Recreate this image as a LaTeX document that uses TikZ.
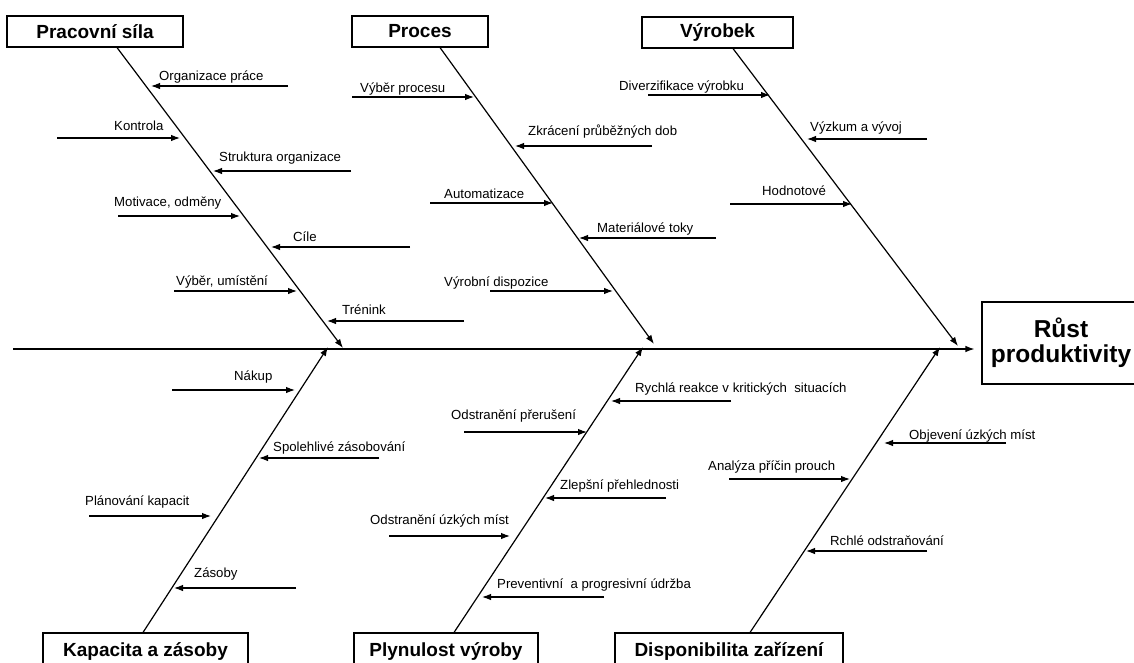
\documentclass[tikz,border=0pt]{standalone}
\usepackage{fontspec}
\setmainfont{Liberation Sans}
\usetikzlibrary{arrows.meta}

\tikzset{
  tip/.style={-{Latex[length=9pt,width=6.5pt]}},
  spine/.style={line width=1.2pt, tip},
  bone/.style={line width=1.2pt, tip},
  causearrow/.style={line width=1.1pt, tip},
  lbl/.style={anchor=base west, inner sep=0pt, font=\fontsize{13.2}{15}\selectfont},
  titlebox/.style={draw, line width=1.1pt, fill=white, inner sep=0pt,
    font=\fontsize{19}{22}\selectfont\bfseries},
  rootbox/.style={draw, line width=1.1pt, fill=white, inner sep=0pt, align=center,
    minimum width=158pt, minimum height=82pt,
    font=\fontsize{24.5}{25}\selectfont\bfseries},
}

% one cause: name, start x, end x, y, label x, label baseline y, text
\newcommand\causeitem[7]{%
  \coordinate (#1-s) at (#2,#4);
  \coordinate (#1-e) at (#3,#4);
  \draw[causearrow] (#1-s) -- (#1-e);
  \node[lbl] (#1-t) at (#5,#6) {#7};
}

\begin{document}
\begin{tikzpicture}[x=1pt,y=-1pt]
\useasboundingbox (0,0) rectangle (1134,662);
\clip (0,0) rectangle (1134,662);
\fill[white] (0,0) rectangle (1134,662);

% effect and spine
\node[rootbox] (root) at (1061,343) {Růst\\produktivity};
\coordinate (sp) at (13,349);
\draw[spine, shorten >=7pt] (sp) -- (root.west |- sp);

% category boxes
\node[titlebox, minimum width=176pt, minimum height=31pt] (pw) at (95,31.5) {Pracovní síla};
\node[titlebox, minimum width=136pt, minimum height=31pt] (pr) at (420,31.5) {Proces};
\node[titlebox, minimum width=151pt, minimum height=31pt] (vy) at (717.5,32.5) {Výrobek};
\node[titlebox, minimum width=205pt, minimum height=36pt] (ka) at (145.5,651) {Kapacita a zásoby};
\node[titlebox, minimum width=184pt, minimum height=36pt] (pl) at (446,651) {Plynulost výroby};
\node[titlebox, minimum width=228pt, minimum height=36pt] (di) at (729,651) {Disponibilita zařízení};

% bone tips on the spine
\coordinate (pw-tip) at (343,348);
\coordinate (pr-tip) at (654,344);
\coordinate (vy-tip) at (958,346);
\coordinate (ka-tip) at (328,347);
\coordinate (pl-tip) at (643,347);
\coordinate (di-tip) at (940,347);

\draw[bone] ([xshift=22pt]pw.south) -- (pw-tip);
\draw[bone] ([xshift=20pt]pr.south) -- (pr-tip);
\draw[bone] ([xshift=15.5pt]vy.south) -- (vy-tip);
\draw[bone] ([xshift=-2.5pt]ka.north) -- (ka-tip);
\draw[bone] ([xshift=8pt]pl.north) -- (pl-tip);
\draw[bone] ([xshift=21pt]di.north) -- (di-tip);

% Pracovní síla
\causeitem{pw1}{288}{151}{86}{159}{80}{Organizace práce}
\causeitem{pw2}{57}{180}{138}{114}{130}{Kontrola}
\causeitem{pw3}{351}{213}{171}{219}{161}{Struktura organizace}
\causeitem{pw4}{118}{240}{216}{114}{206}{Motivace, odměny}
\causeitem{pw5}{410}{271}{247}{293}{241}{Cíle}
\causeitem{pw6}{174}{297}{291}{176}{285}{Výběr, umístění}
\causeitem{pw7}{464}{327}{321}{342}{314}{Trénink}

% Proces
\causeitem{pr1}{352}{474}{97}{360}{92}{Výběr procesu}
\causeitem{pr2}{652}{515}{146}{528}{135}{Zkrácení průběžných dob}
\causeitem{pr3}{430}{553}{203}{444}{198}{Automatizace}
\causeitem{pr4}{716}{579}{238}{597}{232}{Materiálové toky}
\causeitem{pr5}{490}{613}{291}{444}{286}{Výrobní dispozice}

% Výrobek
\causeitem{vy1}{648}{770}{95}{619}{90}{Diverzifikace výrobku}
\causeitem{vy2}{927}{807}{139}{810}{131}{Výzkum a vývoj}
\causeitem{vy3}{730}{852}{204}{762}{195}{Hodnotové}

% Kapacita a zásoby
\causeitem{ka1}{172}{295}{390}{234}{380}{Nákup}
\causeitem{ka2}{379}{259}{458}{273}{451}{Spolehlivé zásobování}
\causeitem{ka3}{89}{211}{516}{85}{505}{Plánování kapacit}
\causeitem{ka4}{296}{174}{588}{194}{577}{Zásoby}

% Plynulost výroby
\causeitem{pl1}{731}{611}{401}{635}{392}{Rychlá reakce v kritických\ \ situacích}
\causeitem{pl2}{464}{587}{432}{451}{419}{Odstranění přerušení}
\causeitem{pl3}{666}{545}{498}{560}{489}{Zlepšní přehlednosti}
\causeitem{pl4}{389}{510}{536}{370}{524}{Odstranění úzkých míst}
\causeitem{pl5}{604}{482}{597}{497}{588}{Preventivní\ \ a progresivní údržba}

% Disponibilita zařízení
\causeitem{di1}{1006}{884}{443}{909}{439}{Objevení úzkých míst}
\causeitem{di2}{729}{850}{479}{708}{470}{Analýza příčin prouch}
\causeitem{di3}{927}{806}{551}{830}{545}{Rchlé odstraňování}
\end{tikzpicture}
\end{document}
